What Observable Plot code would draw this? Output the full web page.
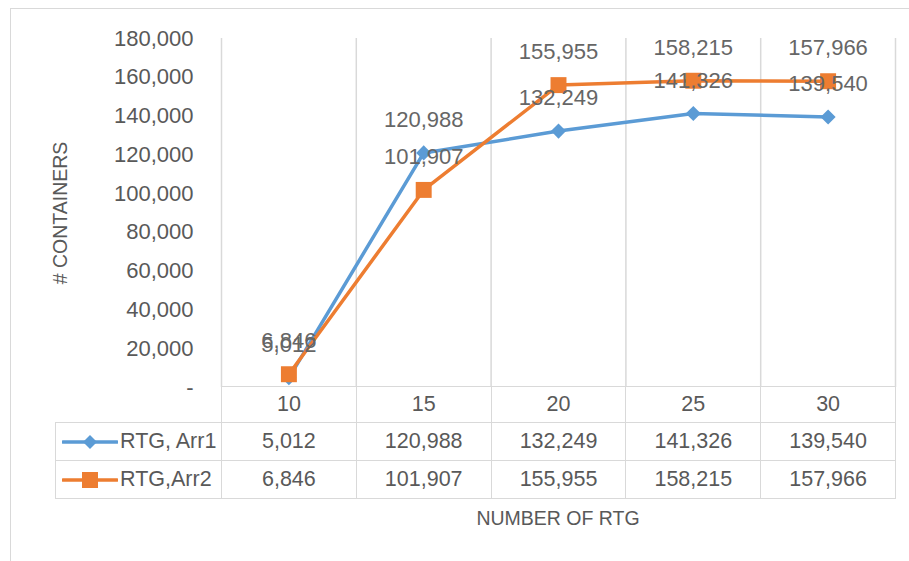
<!DOCTYPE html>
<html><head><meta charset="utf-8">
<script src="https://cdn.jsdelivr.net/npm/d3@7"></script>
<script src="https://cdn.jsdelivr.net/npm/@observablehq/plot@0.6"></script>
<style>
body{margin:0;background:#fff;font-family:"Liberation Sans",Arial,sans-serif;}
#wrap{position:relative;width:909px;height:561px;overflow:hidden;background:#fff;}
#frame{position:absolute;left:10px;top:8px;width:920px;height:580px;border-left:1.5px solid #D9D9D9;border-top:1.5px solid #D9D9D9;}
#chart{position:absolute;left:0;top:0;}
#tbl{position:absolute;left:55px;top:386px;border-collapse:collapse;table-layout:fixed;color:#595959;font-size:21.5px;}
#tbl td{border:1.5px solid #D9D9D9;text-align:center;padding:0;white-space:nowrap;}
#tbl td.key{text-align:left;padding-left:6px;}
#tbl td.key svg{vertical-align:middle;margin-right:2px;}
#xtitle{position:absolute;left:0;width:909px;text-align:center;padding-left:207px;box-sizing:border-box;top:507px;color:#595959;font-size:19.5px;}
</style></head>
<body>
<div id="wrap">
  <div id="frame"></div>
  <div id="chart"></div>
  <table id="tbl"></table>
  <div id="xtitle"></div>
</div>
<script>
const categories = [10, 15, 20, 25, 30];
const arr1 = [5012, 120988, 132249, 141326, 139540];
const arr2 = [6846, 101907, 155955, 158215, 157966];
const seriesNames = ["RTG, Arr1", "RTG,Arr2"];
const seriesValues = [arr1, arr2];
const colors = ["#5B9BD5", "#ED7D31"];
const yTicks = [0, 20000, 40000, 60000, 80000, 100000, 120000, 140000, 160000, 180000];
const yTitle = "# CONTAINERS";
const xTitle = "NUMBER OF RTG";

const fmt = d3.format(",");
const yFmt = d => d === 0 ? "-" : fmt(d);
const step = categories[1] - categories[0];
const bounds = [...categories.map(c => c - step / 2), categories[categories.length - 1] + step / 2];

const data = seriesNames.flatMap((s, i) => categories.map((c, j) => ({series: s, idx: i, x: c, y: seriesValues[i][j]})));
const symbols = [d3.symbolDiamond2, d3.symbolSquare];
const radii = [6.8, 9];

const marks = [
  Plot.ruleX(bounds, {x: d => d, y1: 0, y2: yTicks[yTicks.length - 1], stroke: "#D9D9D9", strokeWidth: 1.5}),
  Plot.axisY(yTicks, {tickSize: 0, tickPadding: 28, tickFormat: yFmt, fontSize: 22, fill: "#595959",
    label: yTitle, labelAnchor: "center", labelArrow: "none", labelOffset: 168})
];
seriesNames.forEach((s, i) => {
  const rows = data.filter(d => d.idx === i);
  marks.push(Plot.line(rows, {x: "x", y: "y", stroke: colors[i], strokeWidth: 3.5}));
  marks.push(Plot.dot(rows, {x: "x", y: "y", symbol: symbols[i], r: radii[i], fill: colors[i], stroke: "none"}));
});
marks.push(Plot.text(data, {x: "x", y: "y", text: d => fmt(d.y), dy: -33, fill: "#666666", fontSize: 22}));

const chart = Plot.plot({
  width: 909, height: 400,
  marginLeft: 221, marginRight: 14, marginTop: 38, marginBottom: 13,
  style: {fontFamily: '"Liberation Sans", Arial, sans-serif', fontSize: "21px", color: "#595959", background: "transparent"},
  x: {domain: [bounds[0], bounds[bounds.length - 1]], axis: null},
  y: {domain: [0, yTicks[yTicks.length - 1]], axis: null},
  marks
});
chart.querySelectorAll("[aria-label='y-axis label'] text, g[aria-label='y-axis label']").forEach(el => el.setAttribute("font-size", "19.5"));
document.getElementById("chart").appendChild(chart);

// Data table
const tbl = document.getElementById("tbl");
const colPx = 674 / categories.length;
let html = `<colgroup><col style="width:166px">${categories.map(() => `<col style="width:${colPx}px">`).join("")}</colgroup>`;
html += `<tr style="height:36px"><td style="border-left:none;border-top:none"></td>${categories.map(c => `<td>${c}</td>`).join("")}</tr>`;
seriesNames.forEach((s, i) => {
  const c = colors[i];
  const marker = i === 0
    ? `<polygon points="28,3 35,10 28,17 21,10" fill="${c}"/>`
    : `<rect x="20" y="2" width="16" height="16" fill="${c}"/>`;
  const key = `<svg width="56" height="20"><line x1="1" y1="10" x2="55" y2="10" stroke="${c}" stroke-width="3.5" stroke-linecap="round"/>${marker}</svg>`;
  html += `<tr style="height:38px"><td class="key">${key}${s}</td>${seriesValues[i].map(v => `<td>${fmt(v)}</td>`).join("")}</tr>`;
});
tbl.innerHTML = html;
document.getElementById("xtitle").textContent = xTitle;
</script>
</body></html>
